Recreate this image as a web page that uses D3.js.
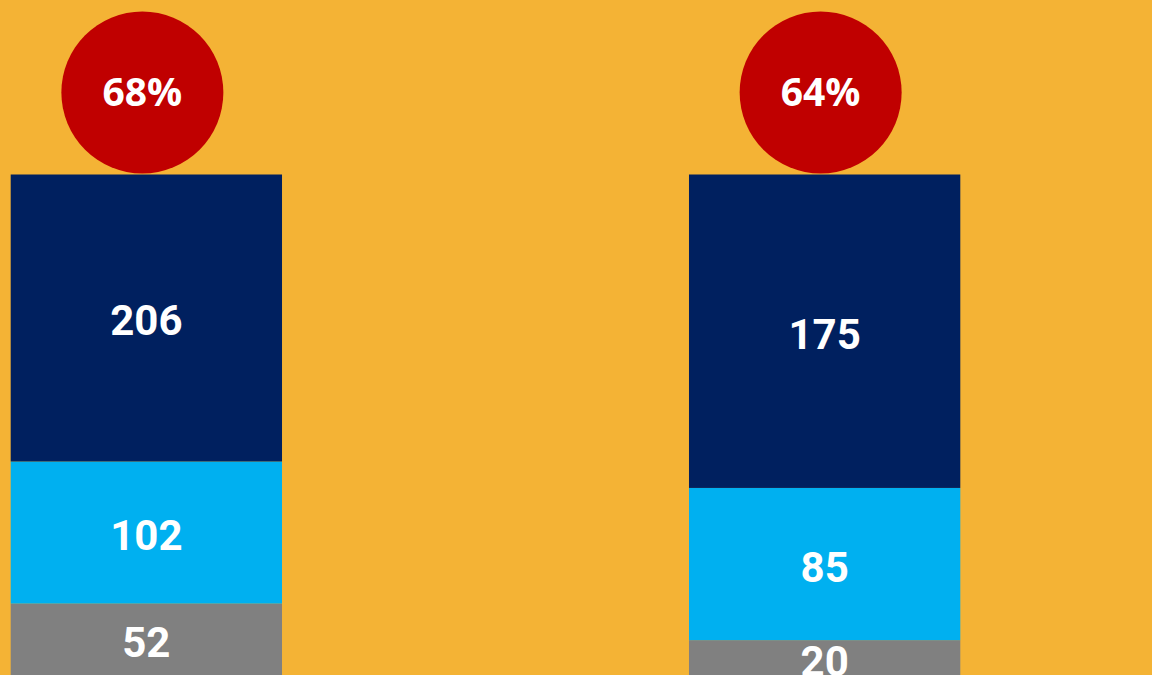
<!DOCTYPE html>
<html><head><meta charset="utf-8">
<script src="https://cdn.jsdelivr.net/npm/d3@7"></script>
<style>html,body{margin:0;padding:0;background:#F4B335;overflow:hidden}</style>
</head><body>
<svg id="c" width="1152" height="675"></svg>
<script>
const categories = ["A", "B"];
const seriesKeys = ["other", "mid", "top"];
const topValues = [206, 175];
const midValues = [102, 85];
const otherValues = [52, 20];
const percentLabels = ["68%", "64%"];

const colors = {top: "#00205F", mid: "#00B0F0", other: "#808080"};

const data = categories.map((c, i) => ({cat: c, top: topValues[i], mid: midValues[i], other: otherValues[i]}));
const stack = d3.stack().keys(seriesKeys).offset(d3.stackOffsetExpand);
const layers = stack(data);

const svg = d3.select("#c");
svg.append("rect").attr("width", 1152).attr("height", 675).attr("fill", "#F4B335");

const x = d3.scaleBand().domain(categories).range([10.7, 960.3]).paddingInner(0.6).paddingOuter(0);
const y = d3.scaleLinear().domain([0, 1]).range([676, 174.5]);

const g = svg.append("g");
layers.forEach(layer => {
  g.selectAll(null).data(layer).enter().append("rect")
    .attr("x", d => x(d.data.cat))
    .attr("width", x.bandwidth())
    .attr("y", d => y(d[1]))
    .attr("height", d => y(d[0]) - y(d[1]))
    .attr("fill", colors[layer.key]);
  g.selectAll(null).data(layer).enter().append("text")
    .attr("x", d => x(d.data.cat) + x.bandwidth() / 2)
    .attr("y", d => (y(d[0]) + y(d[1])) / 2 + 3)
    .attr("text-anchor", "middle")
    .attr("dominant-baseline", "central")
    .attr("fill", "#fff")
    .attr("font-family", "Roboto, sans-serif")
    .attr("font-weight", "bold")
    .attr("font-size", 42)
    .text(d => d.data[layer.key]);
});

const circ = svg.append("g");
categories.forEach((c, i) => {
  const cx = x(c) + x.bandwidth() / 2 - 4;
  circ.append("circle").attr("cx", cx).attr("cy", 92.5).attr("r", 81).attr("fill", "#C00000");
  circ.append("text").attr("x", cx).attr("y", 90)
    .attr("text-anchor", "middle").attr("dominant-baseline", "central")
    .attr("fill", "#fff").attr("font-family", "'Open Sans', sans-serif")
    .attr("font-weight", "bold").attr("font-size", 39)
    .text(percentLabels[i]);
});
</script>
</body></html>
